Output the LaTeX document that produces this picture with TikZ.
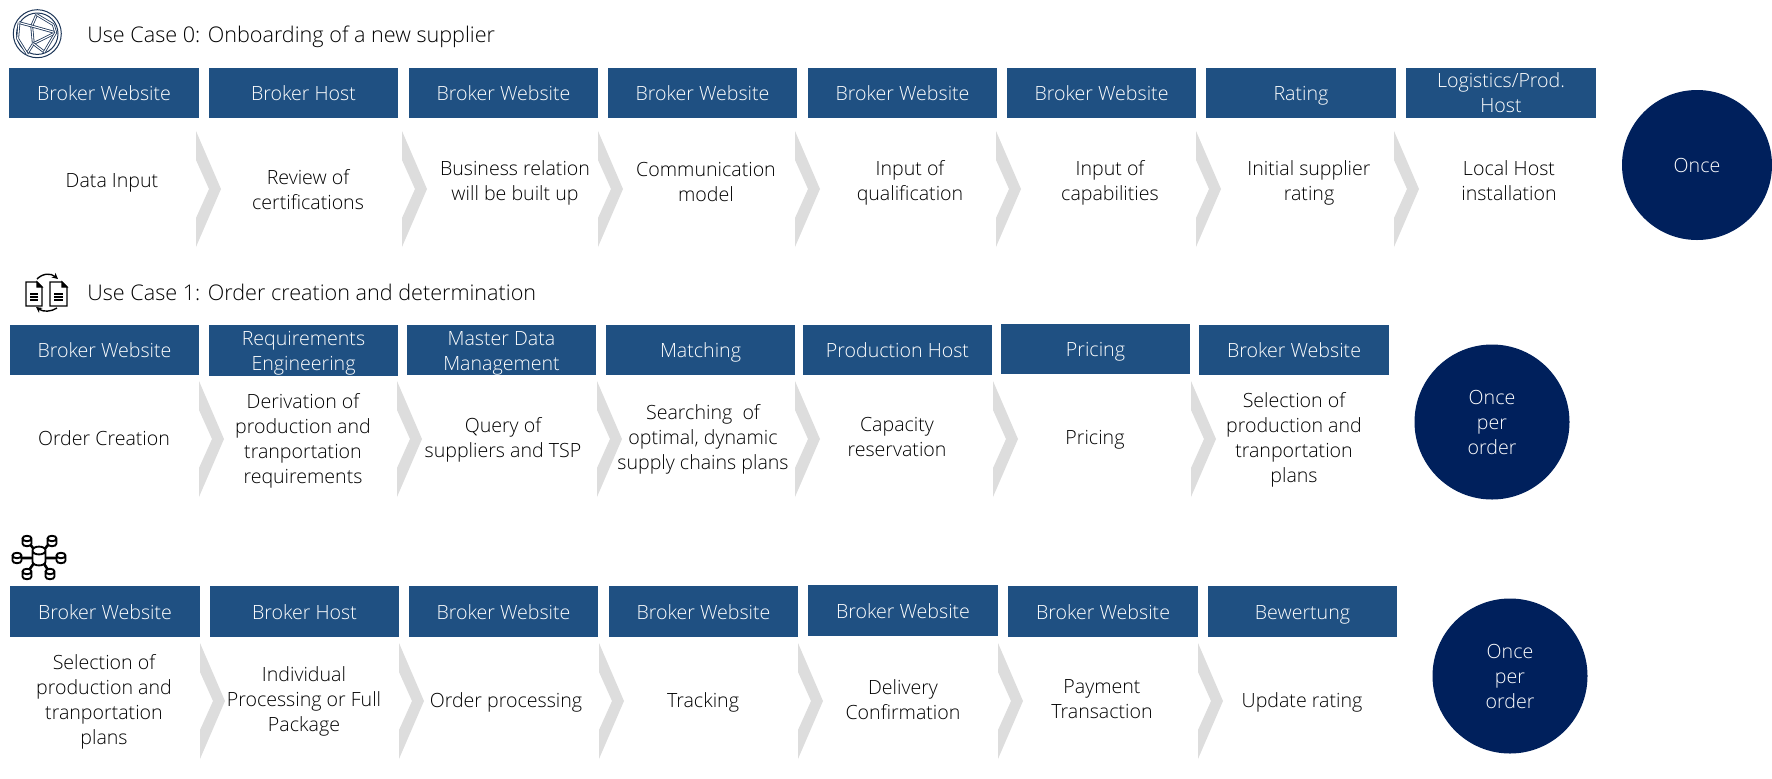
\documentclass[tikz,border=0pt]{standalone}
\usepackage{fontspec}
\usetikzlibrary{arrows.meta}
\setmainfont{Open Sans Light}
\definecolor{boxblue}{HTML}{1F5082}
\definecolor{navy}{HTML}{00205C}
\definecolor{chev}{HTML}{DDDDDD}
\definecolor{ink}{HTML}{000000}
\definecolor{iconblue}{HTML}{1C3557}
\tikzset{
  struts/.style={execute at begin node={\strut},execute at end node={\strut}},
  txt/.style={struts,text=ink,align=center,inner sep=0pt,yshift=-1.5pt,font=\fontsize{9.8}{12.5}\selectfont},
  ttl/.style={struts,text=ink,anchor=west,inner sep=0pt,yshift=-1.1pt,font=\fontsize{10.8}{12.5}\selectfont},
  hdrtxt/.style={struts,text=white,align=center,inner sep=0pt,yshift=-1.4pt,font=\fontsize{9.8}{12.5}\selectfont},
  disc/.style={circle,fill=navy,text=white,align=center,inner sep=0pt,outer sep=0pt,font=\fontsize{9.8}{12.5}\selectfont},
  chevfill/.style={fill=chev,draw=none},
  spoke/.style={draw=iconblue,line width=0.4pt,double=white,double distance=0.55pt,line join=round},
}
% header box: [text offset], name, x0, x1, y0, y1, text
\newcommand{\hdrbox}[7][0]{%
  \fill[boxblue] (#3,#5) rectangle (#4,#6);
  \node[hdrtxt] (#2) at ({(#3+#4)/2},{(#5+#6)/2+#1}) {#7};}
% chevron: left x, centre y
\newcommand{\chv}[2]{%
  \fill[chevfill] (#1,#2-58) -- (#1+25,#2) -- (#1,#2+58) -- (#1,#2+29) -- (#1+13,#2) -- (#1,#2-29) -- cycle;}
% database cylinder: x, y, half width, half height
\newcommand{\dbc}[4]{%
  \draw[line width=0.95pt,fill=white] (#1-#3,#2-#4) -- (#1-#3,#2+#4) .. controls (#1-#3,#2+#4+0.8*#3) and (#1+#3,#2+#4+0.8*#3) .. (#1+#3,#2+#4) -- (#1+#3,#2-#4) .. controls (#1+#3,#2-#4-0.8*#3) and (#1-#3,#2-#4-0.8*#3) .. (#1-#3,#2-#4) .. controls (#1-#3,#2-#4+0.8*#3) and (#1+#3,#2-#4+0.8*#3) .. (#1+#3,#2-#4);}
\begin{document}
\begin{tikzpicture}[x=0.5pt,y=-0.5pt]
\useasboundingbox (0,0) rectangle (1772,778);

% --- icon 1
\draw[iconblue,line width=0.5pt] (37.3,33.7) circle[radius=24];
\draw[iconblue,line width=0.5pt] (37.3,33.7) circle[radius=20.7];
\begin{scope}[shift={(5,2)},x=0.16667pt,y=-0.16667pt]
\draw[spoke] (95,38) -- (80,72) -- (85,125) -- (66,155);
\draw[spoke] (80,72) -- (42,62);
\draw[spoke] (80,72) -- (152,92) -- (85,125);
\draw[spoke] (85,125) -- (118,150);
\draw[spoke] (95,38) -- (145,68);
\draw[spoke] (42,62) -- (38,110) -- (66,155);
\draw[spoke] (152,92) -- (118,150);
\draw[spoke] (152,92) -- (145,68);
\end{scope}

% --- icon 2
\begin{scope}[line width=0.6pt]
\draw (26,282) -- (37,282) -- (42,287) -- (42,306) -- (26,306) -- cycle;
\draw[fill=black] (37,282) -- (37,287) -- (42,287) -- cycle;
\draw (50,282) -- (62,282) -- (67,287) -- (67,306) -- (50,306) -- cycle;
\draw[fill=black] (62,282) -- (62,287) -- (67,287) -- cycle;
\foreach \yy in {294,297,300}{
  \draw (30,\yy) -- (38,\yy);
  \draw (54,\yy) -- (63,\yy);
}
\draw[-{Stealth[length=3pt,width=3pt]},line width=0.7pt] (37,279) .. controls (43,273) and (51,273) .. (58,279);
\draw[-{Stealth[length=3pt,width=3pt]},line width=0.7pt] (57,308) .. controls (51,312) and (43,312) .. (36,307);
\end{scope}

% --- icon 3
\draw[line width=1.3pt] (39,556) -- (27,540) (39,556) -- (52,540) (17,558) -- (61,558) (39,556) -- (27,573) (39,556) -- (50,573);
\dbc{39}{556}{6.5}{5.5}
\dbc{27}{541}{4.5}{2.5}
\dbc{52}{541}{4.5}{2.5}
\dbc{17}{558}{4.5}{2.5}
\dbc{61}{558}{4.5}{2.5}
\dbc{27}{574}{4.5}{2.5}
\dbc{50}{574}{4.5}{2.5}

% --- titles
\node[ttl] (t0) at (87,35) {Use Case 0: Onboarding of a new supplier};
\node[ttl] (t1) at (87,293) {Use Case 1: Order creation and determination};

% --- row 1
\hdrbox{a1}{9}{199}{68}{118}{Broker Website}
\hdrbox{a2}{209}{398}{68}{118}{Broker Host}
\hdrbox{a3}{409}{598}{68}{118}{Broker Website}
\hdrbox{a4}{608}{797}{68}{118}{Broker Website}
\hdrbox{a5}{808}{997}{68}{118}{Broker Website}
\hdrbox{a6}{1007}{1196}{68}{118}{Broker Website}
\hdrbox{a7}{1206}{1396}{68}{118}{Rating}
\hdrbox{a8}{1406}{1596}{68}{118}{Logistics/Prod.\\Host}
\foreach \x in {196,402,598,795,996,1196,1394}{\chv{\x}{189}}
\node[txt] (p1) at (112,179.5) {Data Input};
\node[txt] (p2) at (308,190) {Review of\\certifications};
\node[txt] (p3) at (515,181) {Business relation\\will be built up};
\node[txt] (p4) at (706,183) {Communication\\model};
\node[txt] (p5) at (910,181) {Input of\\qualification};
\node[txt] (p6) at (1110,181) {Input of\\capabilities};
\node[txt] (p7) at (1309,181) {Initial supplier\\rating};
\node[txt] (p8) at (1509,181) {Local Host\\installation};
\node[disc,minimum size=75pt] (c1) at (1697,165) {Once};

% --- row 2
\hdrbox{b1}{10}{199}{325}{375}{Broker Website}
\hdrbox[1.5]{b2}{209}{398}{325}{376}{Requirements\\Engineering}
\hdrbox[1.5]{b3}{407}{596}{325}{375}{Master Data\\Management}
\hdrbox{b4}{606}{795}{325}{375}{Matching}
\hdrbox{b5}{803}{992}{325}{375}{Production Host}
\hdrbox{b6}{1001}{1190}{324}{374}{Pricing}
\hdrbox{b7}{1199}{1389}{325}{375}{Broker Website}
\foreach \x in {199,397,597,795,993,1191}{\chv{\x}{439}}
\node[txt] (q1) at (104,437) {Order Creation};
\node[txt] (q2) at (303,439) {Derivation of\\production and\\tranportation\\requirements};
\node[txt] (q3) at (503,438) {Query of\\suppliers and TSP};
\node[txt] (q4) at (703,438) {Searching\ \ of\\optimal, dynamic\\supply chains plans};
\node[txt] (q5) at (897,438) {Capacity\\reservation};
\node[txt] (q6) at (1095,436) {Pricing};
\node[txt] (q7) at (1294,438) {Selection of\\production and\\tranportation\\plans};
\node[disc,minimum size=77.5pt] (c2) at (1492,422) {Once\\per\\order};

% --- row 3
\hdrbox{d1}{10}{200}{586}{637}{Broker Website}
\hdrbox{d2}{210}{399}{586}{637}{Broker Host}
\hdrbox{d3}{409}{598}{586}{637}{Broker Website}
\hdrbox{d4}{609}{798}{586}{637}{Broker Website}
\hdrbox{d5}{808}{998}{585}{636}{Broker Website}
\hdrbox{d6}{1008}{1198}{586}{637}{Broker Website}
\hdrbox{d7}{1208}{1397}{586}{637}{Bewertung}
\foreach \x in {200,399,599,798,998,1198}{\chv{\x}{701}}
\node[txt] (r1) at (104,700) {Selection of\\production and\\tranportation\\plans};
\node[txt] (r2) at (304,700) {Individual\\Processing or Full\\Package};
\node[txt] (r3) at (506,699) {Order processing};
\node[txt] (r4) at (703,699) {Tracking};
\node[txt] (r5) at (903,700) {Delivery\\Confirmation};
\node[txt] (r6) at (1102,700) {Payment\\Transaction};
\node[txt] (r7) at (1302,699) {Update rating};
\node[disc,minimum size=77.5pt] (c3) at (1510,676) {Once\\per\\order};
\end{tikzpicture}
\end{document}
